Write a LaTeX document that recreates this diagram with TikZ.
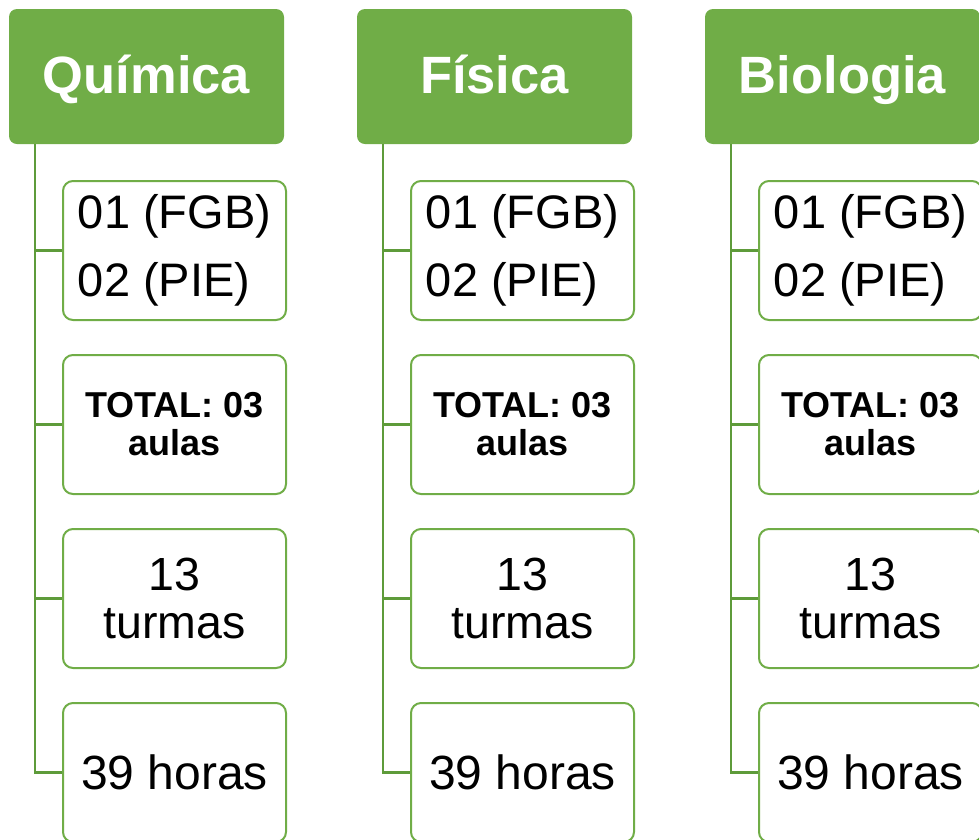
\documentclass[tikz,border=0pt]{standalone}
\usepackage{fontspec}
\setmainfont{Liberation Sans}
\definecolor{hdr}{HTML}{70AD47}
\definecolor{bord}{HTML}{70AD47}
\definecolor{conn}{HTML}{5E9B3A}
\begin{document}
\begin{tikzpicture}[x=1pt,y=-1pt,
  header/.style={fill=hdr, rounded corners=8pt, minimum width=275pt, minimum height=135pt, inner sep=0pt, text height=34pt, text depth=0pt, text=white, font=\fontsize{52.5}{60}\selectfont\bfseries},
  child/.style={draw=bord, line width=2pt, fill=white, rounded corners=10pt, minimum width=223pt, minimum height=139pt, inner sep=0pt},
  big/.style={font=\fontsize{47}{68}\selectfont, align=left},
  tot/.style={font=\fontsize{36}{38}\selectfont\bfseries, align=center},
  tur/.style={font=\fontsize{46.5}{48}\selectfont, align=center},
  hrs/.style={font=\fontsize{48}{50}\selectfont},
  connline/.style={draw=conn, line width=2.5pt}]
\useasboundingbox (0,0) rectangle (979,839);
\foreach \i/\name in {0/Química,1/Física,2/Biologia} {
  \begin{scope}[xshift=\i*348]
  \node[header] (h\i) at (146.5,76.5) {\name};
  \node[child, big] (a\i) at (174.5,250.5) {01 (FGB)\\02 (PIE)};
  \node[child, tot] (b\i) at (174.5,424.5) {TOTAL: 03\\aulas};
  \node[child, tur] (c\i) at (174.5,598.5) {13\\turmas};
  \node[child, hrs] (d\i) at (174.5,772.5) {39 horas};
  \draw[connline] ([xshift=26pt]h\i.south west) |- (d\i.west);
  \draw[connline] ([xshift=26pt]h\i.south west |- a\i.west) -- (a\i.west);
  \draw[connline] ([xshift=26pt]h\i.south west |- b\i.west) -- (b\i.west);
  \draw[connline] ([xshift=26pt]h\i.south west |- c\i.west) -- (c\i.west);
  \end{scope}
}
\end{tikzpicture}
\end{document}
